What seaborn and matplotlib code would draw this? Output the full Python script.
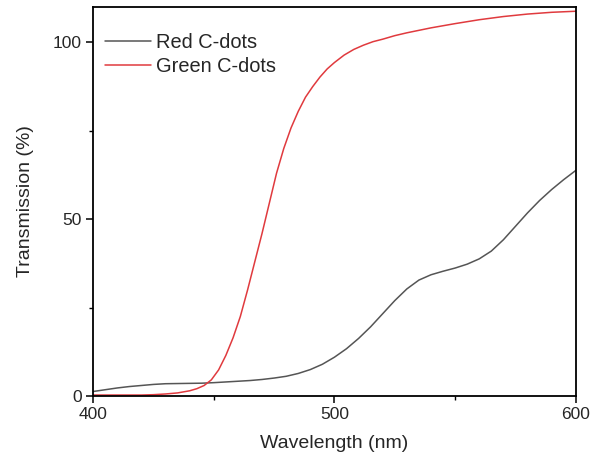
import matplotlib
matplotlib.use("Agg")
import matplotlib.pyplot as plt
import seaborn as sns
import pandas as pd
from matplotlib.ticker import MultipleLocator

red_wl = [400, 405, 410, 415, 420, 425, 430, 435, 440, 445, 450, 455, 460, 465, 470,
          475, 480, 485, 490, 495, 500, 505, 510, 515, 520, 525, 530, 535, 540, 545,
          550, 555, 560, 565, 570, 575, 580, 585, 590, 595, 600]
red_T = [1.3, 1.8, 2.3, 2.7, 3.0, 3.3, 3.5, 3.55, 3.6, 3.65, 3.8, 4.0, 4.2, 4.4, 4.7,
         5.1, 5.6, 6.4, 7.5, 9.0, 11.0, 13.4, 16.3, 19.6, 23.3, 27.0, 30.3, 32.8, 34.3, 35.3,
         36.2, 37.3, 38.8, 41.0, 44.2, 48.0, 51.8, 55.3, 58.4, 61.2, 63.8]

green_wl = [400, 410, 420, 425, 430, 435, 440, 443, 446, 449, 452, 455, 458, 461, 464,
            467, 470, 473, 476, 479, 482, 485, 488, 491, 494, 497, 500, 504, 508, 512,
            516, 520, 525, 530, 540, 550, 560, 570, 580, 590, 600]
green_T = [0.3, 0.3, 0.3, 0.4, 0.6, 0.9, 1.5, 2.1, 3.0, 4.6, 7.4, 11.5, 16.5, 22.5, 30.0,
           38.0, 46.0, 54.5, 63.0, 70.0, 75.8, 80.5, 84.5, 87.5, 90.2, 92.5, 94.3, 96.4, 98.0, 99.2,
           100.2, 100.9, 101.9, 102.7, 104.1, 105.3, 106.4, 107.3, 108.0, 108.5, 108.8]

series_names = ["Red C-dots", "Green C-dots"]
colors = ["#555555", "#e03a3e"]

df = pd.concat([
    pd.DataFrame({"Wavelength": red_wl, "T": red_T, "Sample": series_names[0]}),
    pd.DataFrame({"Wavelength": green_wl, "T": green_T, "Sample": series_names[1]}),
], ignore_index=True)

sns.set_style("ticks")
plt.rcParams["font.family"] = ["Liberation Sans", "DejaVu Sans"]

fig = plt.figure(figsize=(5.93, 4.66), dpi=100)
ax = fig.add_axes([0.157, 0.150, 0.814, 0.835])

sns.lineplot(data=df, x="Wavelength", y="T", hue="Sample", palette=colors,
             hue_order=series_names, linewidth=1.1, ax=ax, sort=True)

ax.set_xlim(400, 600)
ax.set_ylim(0, 110)
ax.xaxis.set_major_locator(MultipleLocator(100))
ax.xaxis.set_minor_locator(MultipleLocator(50))
ax.yaxis.set_major_locator(MultipleLocator(50))
ax.yaxis.set_minor_locator(MultipleLocator(25))
ax.tick_params(which="major", direction="out", length=5, width=1.1, labelsize=12.5,
               color="black", pad=3)
ax.tick_params(which="minor", direction="out", length=3, width=1.0, color="black")
for s in ax.spines.values():
    s.set_visible(True)
    s.set_linewidth(1.3)
    s.set_color("black")

ax.set_xlabel("Wavelength (nm)", fontsize=14, labelpad=9)
ax.set_ylabel("Transmission (%)", fontsize=14, labelpad=14)

leg = ax.legend(loc="upper left", frameon=False, fontsize=14.4, handlelength=2.3,
                handletextpad=0.25, borderaxespad=0.2, labelspacing=0.22,
                bbox_to_anchor=(0.0, 0.963))
for line in leg.get_lines():
    line.set_linewidth(1.1)

fig.savefig("out.png", dpi=100)
